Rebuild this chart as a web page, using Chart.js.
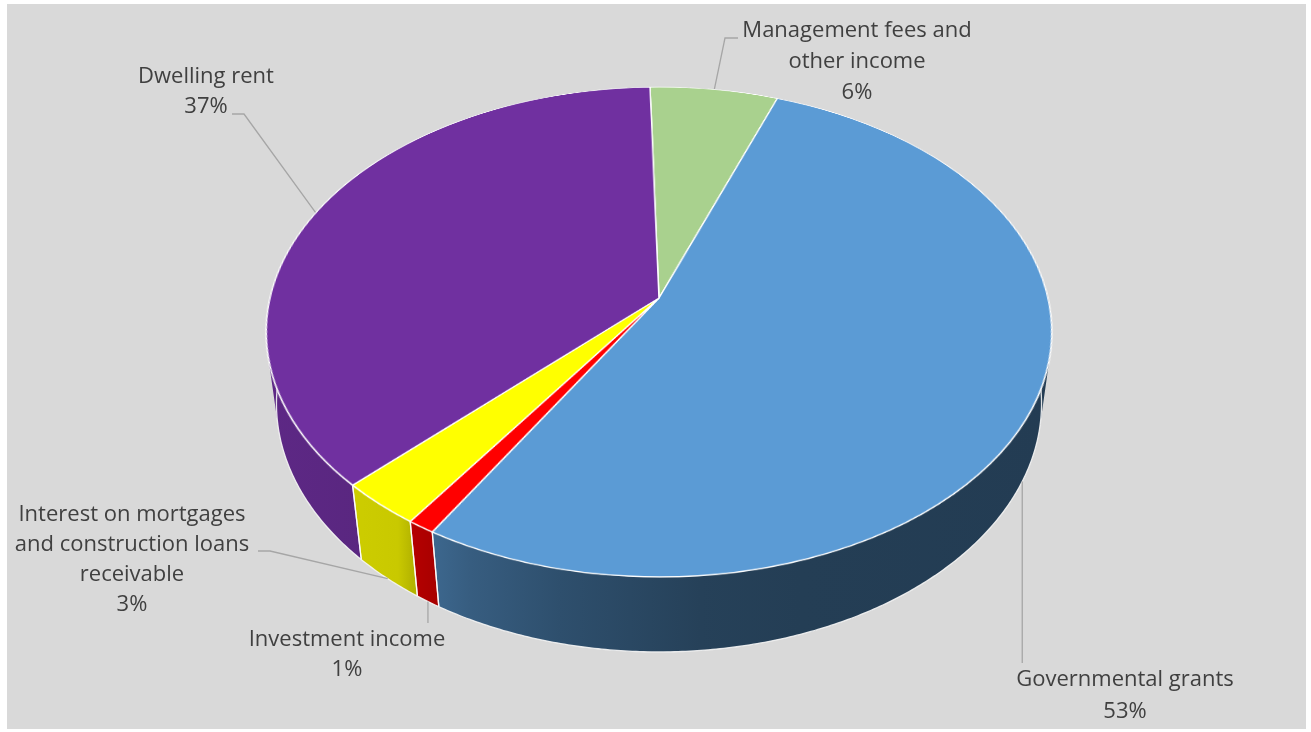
<!DOCTYPE html>
<html><head><meta charset="utf-8">
<script src="https://cdn.jsdelivr.net/npm/chart.js@4.4.0/dist/chart.umd.min.js"></script>
<style>
html,body{margin:0;padding:0;width:1311px;height:732px;overflow:hidden;background:#fff;}
#wrap{position:relative;width:1311px;height:732px;overflow:hidden;}
#bg{position:absolute;left:0;top:0;}
#pie{position:absolute;left:259px;top:-102px;width:800px;height:800px;transform:perspective(2205px) rotateX(51.87deg);transform-origin:50% 50%;}
</style></head><body>
<div id="wrap"><canvas id="bg" width="1311" height="732"></canvas><canvas id="pie" width="800" height="800"></canvas></div>
<script>
// ---- data ----
const categories = ['Management fees and other income','Governmental grants','Investment income','Interest on mortgages and construction loans receivable','Dwelling rent'];
const shares = [6, 53, 1, 3, 37];
const percentLabels = ['6%', '53%', '1%', '3%', '37%'];
const labelLines = [['Management fees and','other income'],['Governmental grants'],['Investment income'],['Interest on mortgages','and construction loans','receivable'],['Dwelling rent']];
const topColors = ['#a9d18e','#5b9bd5','#ff0000','#ffff00','#7030a0'];

// ---- layout / style ----
const PIE = {cx:659, cy:298, tilt:51.87, persp:2205, depth:94};
const cosT = Math.cos(PIE.tilt*Math.PI/180), sinT = Math.sin(PIE.tilt*Math.PI/180);
const labelLayout = [
  {x:857, ys:[31,62,93], elbow:[[725,38],[738,38]]},
  {x:1125, ys:[680,712], vEnd:663},
  {x:347, ys:[640,670], vEnd:623},
  {x:132, ys:[515,545,575,605], elbow:[[270,551],[258,551]]},
  {x:206, ys:[77,107], elbow:[[244,114],[232,114]]}
];
const shadeStops = [[266,0.83],[398,0.79],[412,0.71],[430,0.67],[470,0.60],[560,0.51],[700,0.42],[800,0.40],[1052,0.39]];

function proj(theta, zl, R){
  const x = R*Math.cos(theta), y = R*Math.sin(theta);
  const Y = cosT*y - sinT*zl, Z = sinT*y + cosT*zl;
  const sc = PIE.persp/(PIE.persp - Z);
  return [PIE.cx + x*sc, PIE.cy + Y*sc];
}
function shade(hex, f){
  const n = parseInt(hex.slice(1),16);
  const r = Math.round(((n>>16)&255)*f), g = Math.round(((n>>8)&255)*f), b = Math.round((n&255)*f);
  return `rgb(${r},${g},${b})`;
}

const side3d = {
  id:'side3d',
  afterDraw(chart){
    const cv = document.getElementById('bg');
    const ctx = cv.getContext('2d');
    ctx.clearRect(0,0,cv.width,cv.height);
    ctx.fillStyle = '#ffffff'; ctx.fillRect(0,0,cv.width,cv.height);
    ctx.fillStyle = '#d9d9d9'; ctx.fillRect(7,4,1299,725);
    const meta = chart.getDatasetMeta(0);
    const H = -PIE.depth;
    const arcs = meta.data.map(el => el.getProps(['startAngle','endAngle','outerRadius'], true));
    // sides
    arcs.forEach((a, i) => {
      const R = a.outerRadius;
      const n = Math.max(2, Math.ceil((a.endAngle - a.startAngle)/(Math.PI/360)));
      ctx.beginPath();
      for (let k=0;k<n;k++){
        const t0 = a.startAngle + (a.endAngle-a.startAngle)*k/n;
        const t1 = a.startAngle + (a.endAngle-a.startAngle)*(k+1)/n;
        let pts = [proj(t0,0,R), proj(t1,0,R), proj(t1,H,R), proj(t0,H,R)];
        let area = 0;
        for (let j=0;j<4;j++){ const p=pts[j], q=pts[(j+1)%4]; area += p[0]*q[1]-q[0]*p[1]; }
        if (area < 0) pts = pts.reverse();
        ctx.moveTo(pts[0][0],pts[0][1]);
        for (let j=1;j<4;j++) ctx.lineTo(pts[j][0],pts[j][1]);
        ctx.closePath();
      }
      const g = ctx.createLinearGradient(266,0,1052,0);
      shadeStops.forEach(s => g.addColorStop((s[0]-266)/(1052-266), shade(topColors[i], s[1])));
      ctx.fillStyle = g;
      ctx.fill('nonzero');
    });
    // boundary lines on visible front
    ctx.strokeStyle = 'rgba(255,255,255,0.85)'; ctx.lineWidth = 1.3;
    arcs.forEach(a => {
      const R = a.outerRadius;
      [a.startAngle, a.endAngle].forEach(t => {
        if (Math.sin(t) > 0.05){
          const p = proj(t,0,R), q = proj(t,H,R);
          ctx.beginPath(); ctx.moveTo(p[0],p[1]); ctx.lineTo(q[0],q[1]); ctx.stroke();
        }
      });
    });
    // bottom rim outline
    const R0 = arcs[0].outerRadius;
    ctx.strokeStyle = 'rgba(245,245,245,0.9)'; ctx.lineWidth = 1.3;
    ctx.beginPath();
    for (let d=-4; d<=184; d+=0.5){
      const p = proj(d*Math.PI/180, H, R0);
      if (d===-4) ctx.moveTo(p[0],p[1]); else ctx.lineTo(p[0],p[1]);
    }
    ctx.stroke();
    // leader lines
    ctx.strokeStyle = '#a6a6a6'; ctx.lineWidth = 1.3;
    arcs.forEach((a, i) => {
      const mid = (a.startAngle + a.endAngle)/2;
      const front = Math.sin(mid) > 0;
      const p = proj(mid, front ? H : 0, a.outerRadius);
      const L = labelLayout[i];
      ctx.beginPath(); ctx.moveTo(p[0], p[1]);
      if (L.elbow) L.elbow.forEach(e => ctx.lineTo(e[0], e[1]));
      else ctx.lineTo(p[0], L.vEnd);
      ctx.stroke();
    });
    // labels
    ctx.fillStyle = '#404040';
    ctx.font = '22px "Open Sans"';
    ctx.textAlign = 'center'; ctx.textBaseline = 'middle';
    labelLines.forEach((lines, i) => {
      const L = labelLayout[i];
      const all = lines.concat([percentLabels[i]]);
      all.forEach((t, j) => ctx.fillText(t, L.x, L.ys[j]));
    });
  }
};

new Chart(document.getElementById('pie'), {
  type: 'pie',
  data: {
    labels: categories,
    datasets: [{
      data: shares,
      backgroundColor: topColors,
      borderColor: '#ffffff',
      borderWidth: 1.5,
      radius: 389,
      rotation: -1.5
    }]
  },
  options: {
    responsive: false,
    animation: false,
    devicePixelRatio: 1,
    events: [],
    layout: {padding: 0},
    plugins: {legend: {display: false}, tooltip: {enabled: false}}
  },
  plugins: [side3d]
});
</script>
</body></html>
